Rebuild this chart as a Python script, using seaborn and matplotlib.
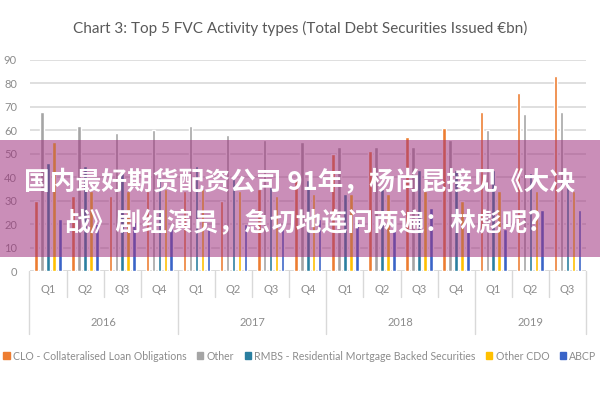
# -*- coding: utf-8 -*-
"""Chart 3: Top 5 FVC Activity types - barres groupées par trimestre."""

import matplotlib.pyplot as plt
import matplotlib.patches as mpatches
import matplotlib.transforms as mtransforms
import pandas as pd
import seaborn as sns

# ---------------------------------------------------------------------------
# Données
# ---------------------------------------------------------------------------
years = ["2016", "2017", "2018", "2019"]
quarters = ["Q1", "Q2", "Q3", "Q4", "Q1", "Q2", "Q3", "Q4",
            "Q1", "Q2", "Q3", "Q4", "Q1", "Q2", "Q3"]
quarter_years = ["2016"] * 4 + ["2017"] * 4 + ["2018"] * 4 + ["2019"] * 3

series = [
    "CLO - Collateralised Loan Obligations",
    "Other",
    "RMBS - Residential Mortgage Backed Securities",
    "Other CDO",
    "ABCP",
]
clo = [30, 32, 32, 34, 34, 30, 35, 39, 50, 51, 57, 61, 68, 76, 83]
other = [68, 62, 59, 60, 62, 58, 56, 55, 53, 53, 53, 56, 60, 67, 68]
rmbs = [46, 45, 42, 43, 45, 41, 36, 39, 33, 35, 43, 43, 43, 42, 38]
other_cdo = [55, 34, 34, 35, 35, 34, 32, 33, 33, 33, 34, 30, 34, 34, 34]
abcp = [22, 20, 21, 19, 18, 20, 19, 22, 21, 23, 27, 27, 18, 26, 26]

colors = ["#ED7D31", "#A5A5A5", "#2A7FA0", "#FFC000", "#3A64C8"]

title = "Chart 3: Top 5 FVC Activity types (Total Debt Securities Issued €bn)"
banner_line1 = "国内最好期货配资公司 91年，杨尚昆接见《大决"
banner_line2 = "战》剧组演员，急切地连问两遍：林彪呢?"

# ---------------------------------------------------------------------------
# Style
# ---------------------------------------------------------------------------
sns.set_theme(style="white")
plt.rcParams["font.family"] = ["Lato", "DejaVu Sans"]

GRID = "#D9D9D9"
TXT = "#8C8C8C"

periods = [f"{y} {q}" for y, q in zip(quarter_years, quarters)]
valeurs = [clo, other, rmbs, other_cdo, abcp]
lignes = []
for nom, vals in zip(series, valeurs):
    for p, v in zip(periods, vals):
        lignes.append({"period": p, "series": nom, "value": v})
df = pd.DataFrame(lignes)

fig = plt.figure(figsize=(6, 4), dpi=100)
ax = fig.add_axes([29.5 / 600, 1 - 271 / 400, (586 - 29.5) / 600, 211 / 400])

sns.barplot(
    data=df, x="period", y="value", hue="series",
    order=periods, hue_order=series, palette=colors,
    width=0.8, gap=0.4, saturation=1, legend=False, ax=ax,
)

ax.set_xlim(-0.5, len(periods) - 0.5)
ax.set_ylim(0, 90)
ax.set_yticks(range(0, 91, 10))
ax.set_xlabel("")
ax.set_ylabel("")
for s in ax.spines.values():
    s.set_visible(False)
ax.yaxis.grid(True, color=GRID, lw=1.2)
ax.set_axisbelow(True)
ax.axhline(0, color=GRID, lw=1.2, zorder=0.5)
ax.tick_params(axis="y", length=0, labelsize=8, labelcolor=TXT, pad=9)
ax.set_xticks([])

# étiquettes multi-niveaux de l'axe x
trans = mtransforms.blended_transform_factory(ax.transData, ax.transAxes)
for i, q in enumerate(quarters):
    ax.text(i, -0.09, q, transform=trans, ha="center", va="center",
            fontsize=8, color=TXT)
for i in range(len(periods) + 1):
    x = i - 0.5
    year_edge = i in (0, 4, 8, 12, len(periods))
    y_end = -0.30 if year_edge else -0.125
    ax.plot([x, x], [0, y_end], transform=trans, color=GRID, lw=1,
            clip_on=False)
for y in years:
    idx = [i for i, qy in enumerate(quarter_years) if qy == y]
    ax.text((idx[0] + idx[-1]) / 2, -0.245, y, transform=trans,
            ha="center", va="center", fontsize=8, color=TXT)

# titre
fig.text(0.5, 1 - 28 / 400, title, ha="center", va="center",
         fontsize=11, color="#595959")

# légende
handles = [mpatches.Patch(color=c, label=s) for c, s in zip(colors, series)]
fig.legend(handles=handles, loc="center", bbox_to_anchor=(0.5, 1 - 356 / 400),
           ncol=5, frameon=False, fontsize=7.6, labelcolor=TXT,
           handlelength=0.6, handleheight=0.6, handletextpad=0.3,
           columnspacing=1.0)

# bandeau superposé
fig.patches.append(mpatches.Rectangle(
    (0, 1 - 257 / 400), 1, 117 / 400, transform=fig.transFigure,
    facecolor="#A0327F", alpha=0.55, edgecolor="none", zorder=5))
fig.text(0.5, 1 - 183 / 400, banner_line1, ha="center", va="center",
         fontsize=18.5, fontweight="bold", color="white", zorder=6,
         fontfamily="Noto Sans CJK SC")
fig.text(0.505, 1 - 224 / 400, banner_line2, ha="center", va="center",
         fontsize=18.5, fontweight="bold", color="white", zorder=6,
         fontfamily="Noto Sans CJK SC")

# marge basse vide
fig.patches.append(mpatches.Rectangle(
    (0, 0), 1, 30 / 400, transform=fig.transFigure,
    facecolor="white", edgecolor="none", zorder=10))

fig.savefig("out.png", dpi=100)
plt.close(fig)
